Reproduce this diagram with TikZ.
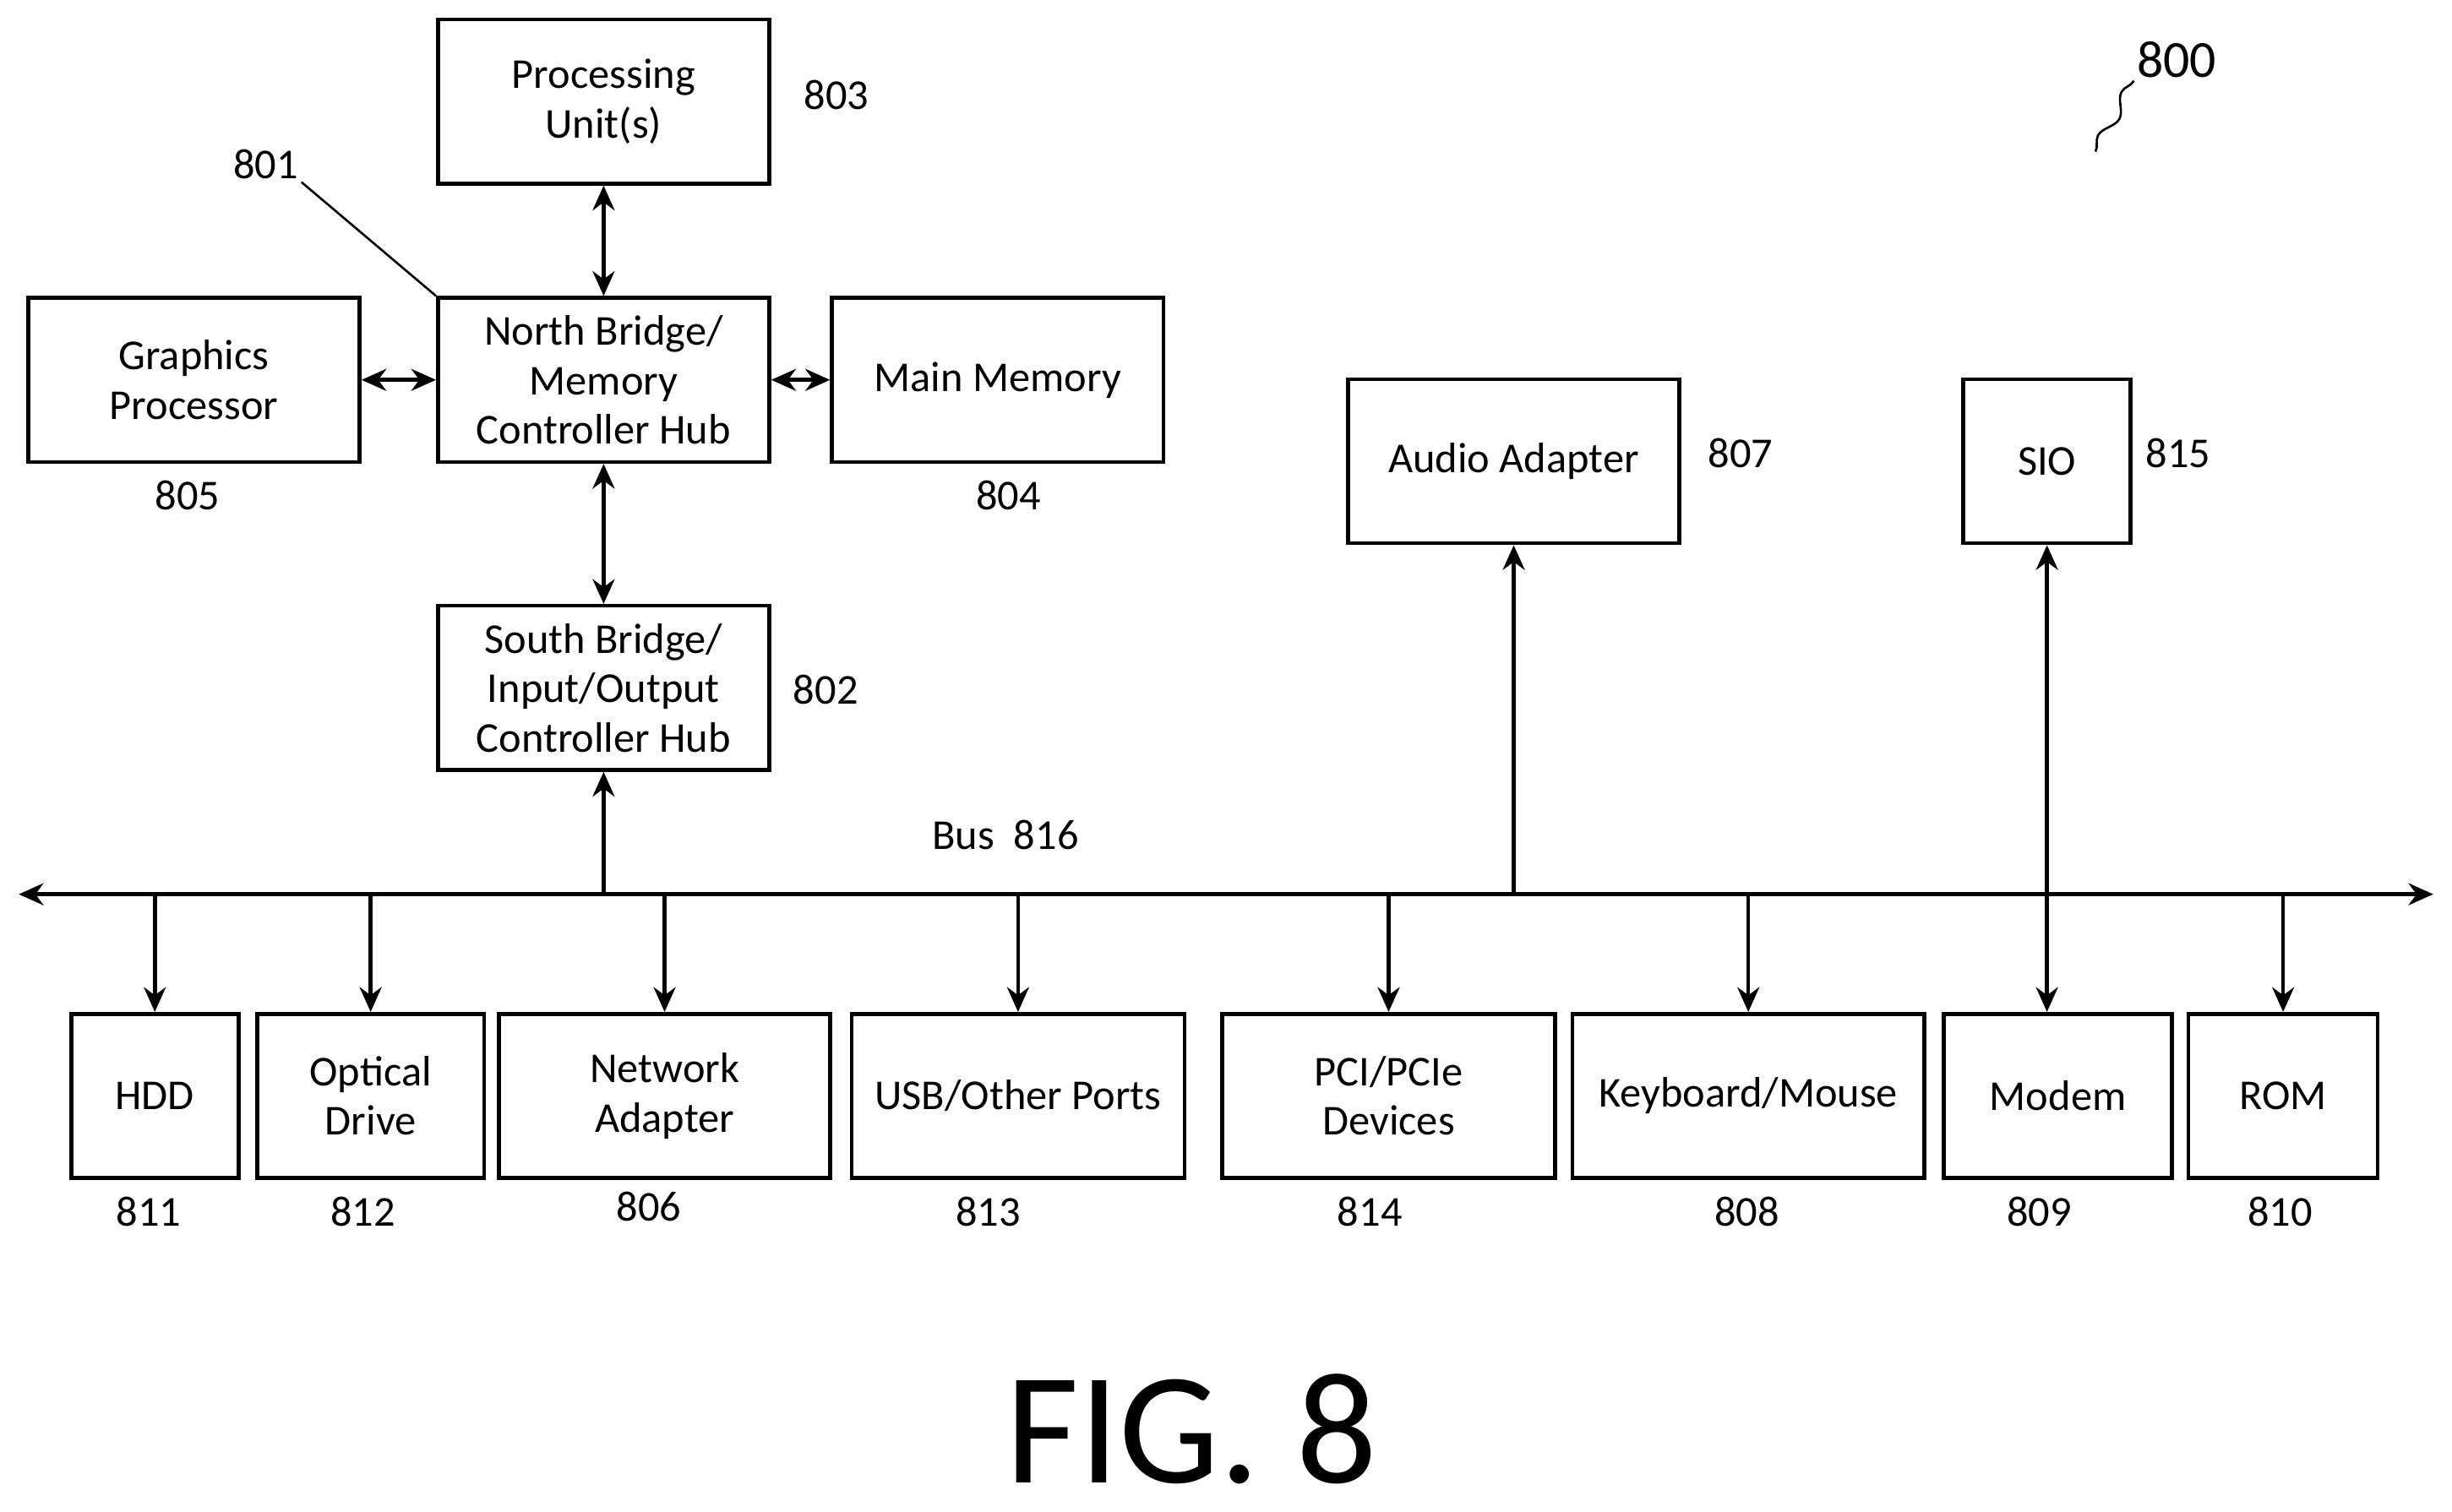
\documentclass[tikz,border=0pt]{standalone}
\usepackage{fontspec}
\setmainfont{Carlito}
\usetikzlibrary{arrows.meta,decorations.pathmorphing}

\begin{document}
\begin{tikzpicture}[x=0.02cm,y=-0.02cm,font=\fontsize{15.5}{18}\selectfont]
\useasboundingbox (0,0) rectangle (1568,967);
\begin{scope}[every node/.style={rectangle,draw,line width=1.4pt,align=center,minimum height=2.1cm,inner sep=2pt}]
    \node[minimum width=4.24cm] (PU) at (386,65) {Processing\\Unit(s)};
    \node[minimum width=4.24cm] (NB) at (386,243) {North Bridge/\\Memory\\Controller Hub};
    \node[minimum width=4.24cm] (GP) at (124,243) {Graphics\\Processor};
    \node[minimum width=4.24cm] (MM) at (638,243) {Main Memory};
    \node[minimum width=4.24cm] (SB) at (386,440) {South Bridge/\\Input/Output\\Controller Hub};
    \node[minimum width=4.24cm] (AA) at (968,295) {Audio Adapter};
    \node[minimum width=2.14cm] (SIO) at (1309,295) {SIO};
    \node[minimum width=2.14cm] (HDD) at (99,701) {HDD};
    \node[minimum width=2.9cm] (OD) at (237,701) {Optical\\Drive};
    \node[minimum width=4.24cm] (NA) at (425,701) {Network\\Adapter};
    \node[minimum width=4.26cm] (USB) at (651,701) {USB/Other Ports};
    \node[minimum width=4.26cm] (PCI) at (888,701) {PCI/PCIe\\Devices};
    \node[minimum width=4.5cm] (KM) at (1118,701) {Keyboard/Mouse};
    \node[minimum width=2.92cm] (MO) at (1316,701) {Modem};
    \node[minimum width=2.42cm] (ROM) at (1460,701) {ROM};
\end{scope}
\begin{scope}[every node/.style={inner sep=1pt}]
    \node at (535,61) {803};
    \node (L801) at (170,105) {801};
    \node at (120,317) {805};
    \node at (645,317) {804};
    \node at (528,441) {802};
    \node at (1113,290) {807};
    \node at (1393,290) {815};
    \node at (643,534) {Bus\ \ 816};
    \node at (95,775) {811};
    \node at (232,775) {812};
    \node at (415,772) {806};
    \node at (632,775) {813};
    \node at (876,775) {814};
    \node at (1117,775) {808};
    \node at (1304,775) {809};
    \node at (1458,775) {810};
    \node (L800) at (1392,38) {\fontsize{19}{22}\selectfont 800};
    \node at (762,914) {\fontsize{58}{62}\selectfont FIG. 8};
\end{scope}
\coordinate (busL) at (12,572);
\coordinate (busR) at (1556,572);
\coordinate (sq) at (1340,97);
\begin{scope}[line width=1.4pt,>={Stealth[length=9pt,width=8pt]}]
    \draw[<->] (busL) -- (busR);
    \draw[<->] (PU) -- (NB);
    \draw[<->] (NB) -- (SB);
    \draw[<->] (GP) -- (NB);
    \draw[<->] (NB) -- (MM);
    \draw[->] (SB.south |- busL) -- (SB.south);
    \draw[->] (AA.south |- busL) -- (AA.south);
    \draw[<->] (SIO.south) -- (SIO.south |- MO.north);
    \foreach \b in {HDD,OD,NA,USB,PCI,KM,ROM}
        \draw[->] (\b.north |- busL) -- (\b.north);
\end{scope}
\draw[line width=0.8pt] (L801.south east) -- (NB.north west);
\draw[line width=0.8pt,decorate,decoration={snake,amplitude=2pt,segment length=18pt}] (sq) -- (L800.south west);
\end{tikzpicture}
\end{document}
